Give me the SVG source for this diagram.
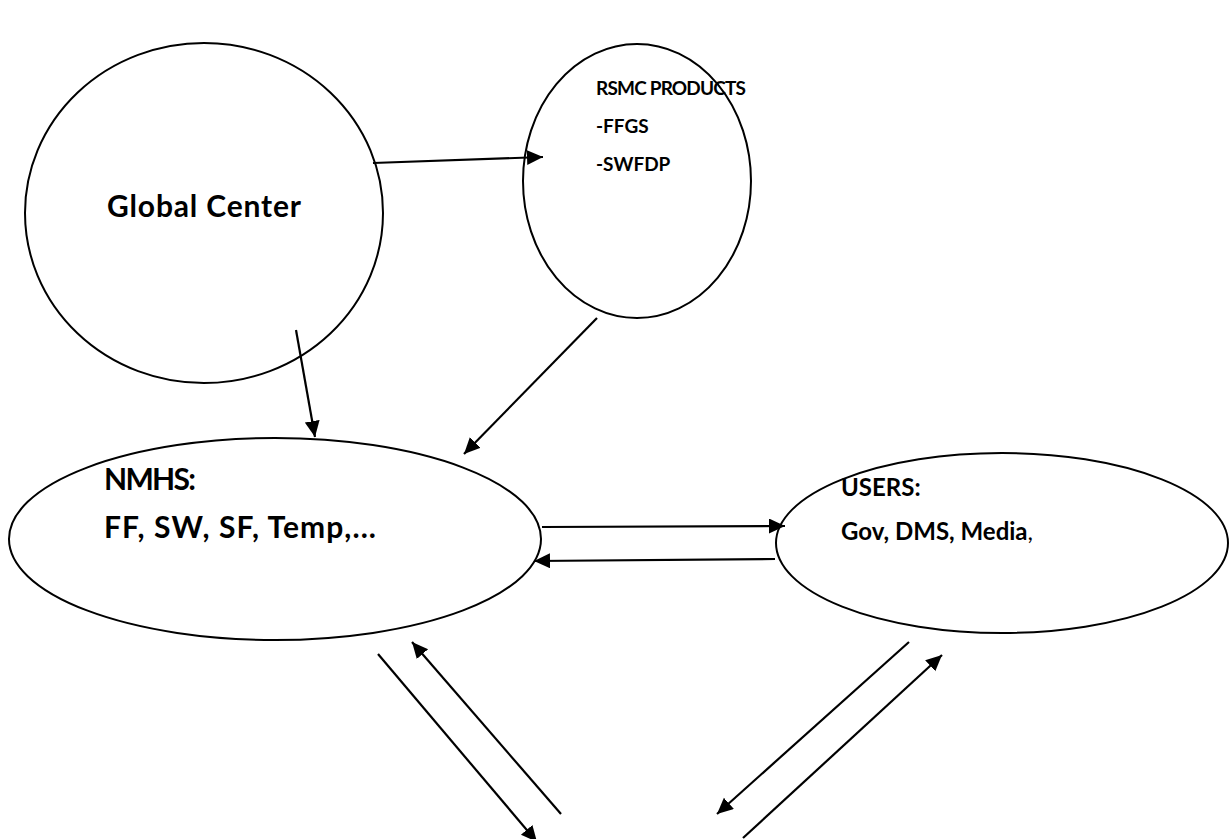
<svg xmlns="http://www.w3.org/2000/svg" width="1229" height="839" viewBox="0 0 1229 839">
<style>
.node{fill:#fff;stroke:#000;stroke-width:2}
.lbl{font-family:Lato,'Liberation Sans',sans-serif;font-weight:bold;fill:#000}
.edge{stroke:#000;stroke-width:2.2;fill:none;marker-end:url(#ah)}
</style>
<defs>
<marker id="ah" markerUnits="userSpaceOnUse" markerWidth="18" markerHeight="16" refX="16" refY="7.5" orient="auto"><path d="M0,0 L16,7.5 L0,15 z" fill="#000"/></marker>
</defs>
<rect width="1229" height="839" fill="#fff"/>
<g id="global-center">
<ellipse class="node" cx="204" cy="213" rx="179" ry="170"/>
<text class="lbl" x="107" y="217" font-size="30" textLength="194">Global Center</text>
</g>
<g id="rsmc-products">
<ellipse class="node" cx="637" cy="181" rx="114" ry="137"/>
<text class="lbl" x="596" y="95" font-size="19" textLength="150">RSMC PRODUCTS</text>
<text class="lbl" x="596" y="133" font-size="19">-FFGS</text>
<text class="lbl" x="596" y="171" font-size="19">-SWFDP</text>
</g>
<g id="nmhs">
<ellipse class="node" cx="275" cy="539" rx="266" ry="101"/>
<text class="lbl" x="104" y="490" font-size="30" textLength="92">NMHS:</text>
<text class="lbl" x="104" y="538" font-size="30" textLength="272">FF, SW, SF, Temp,...</text>
</g>
<g id="users">
<ellipse class="node" cx="1002" cy="543" rx="226" ry="90"/>
<text class="lbl" x="841" y="496" font-size="24">USERS:</text>
<text class="lbl" x="841" y="540" font-size="24">Gov, DMS, Media<tspan font-weight="normal">,</tspan></text>
</g>
<g id="connectors">
<line class="edge" x1="373" y1="163" x2="543" y2="157"/>
<line class="edge" x1="296" y1="330" x2="315" y2="437"/>
<line class="edge" x1="597" y1="318" x2="464" y2="454"/>
<line class="edge" x1="542" y1="527" x2="785" y2="526"/>
<line class="edge" x1="775" y1="559" x2="534" y2="561"/>
<line class="edge" x1="378" y1="654" x2="537" y2="842"/>
<line class="edge" x1="561" y1="814" x2="412" y2="642"/>
<line class="edge" x1="909" y1="642" x2="717" y2="814"/>
<line class="edge" x1="743" y1="838" x2="942" y2="655"/>
</g>
</svg>
